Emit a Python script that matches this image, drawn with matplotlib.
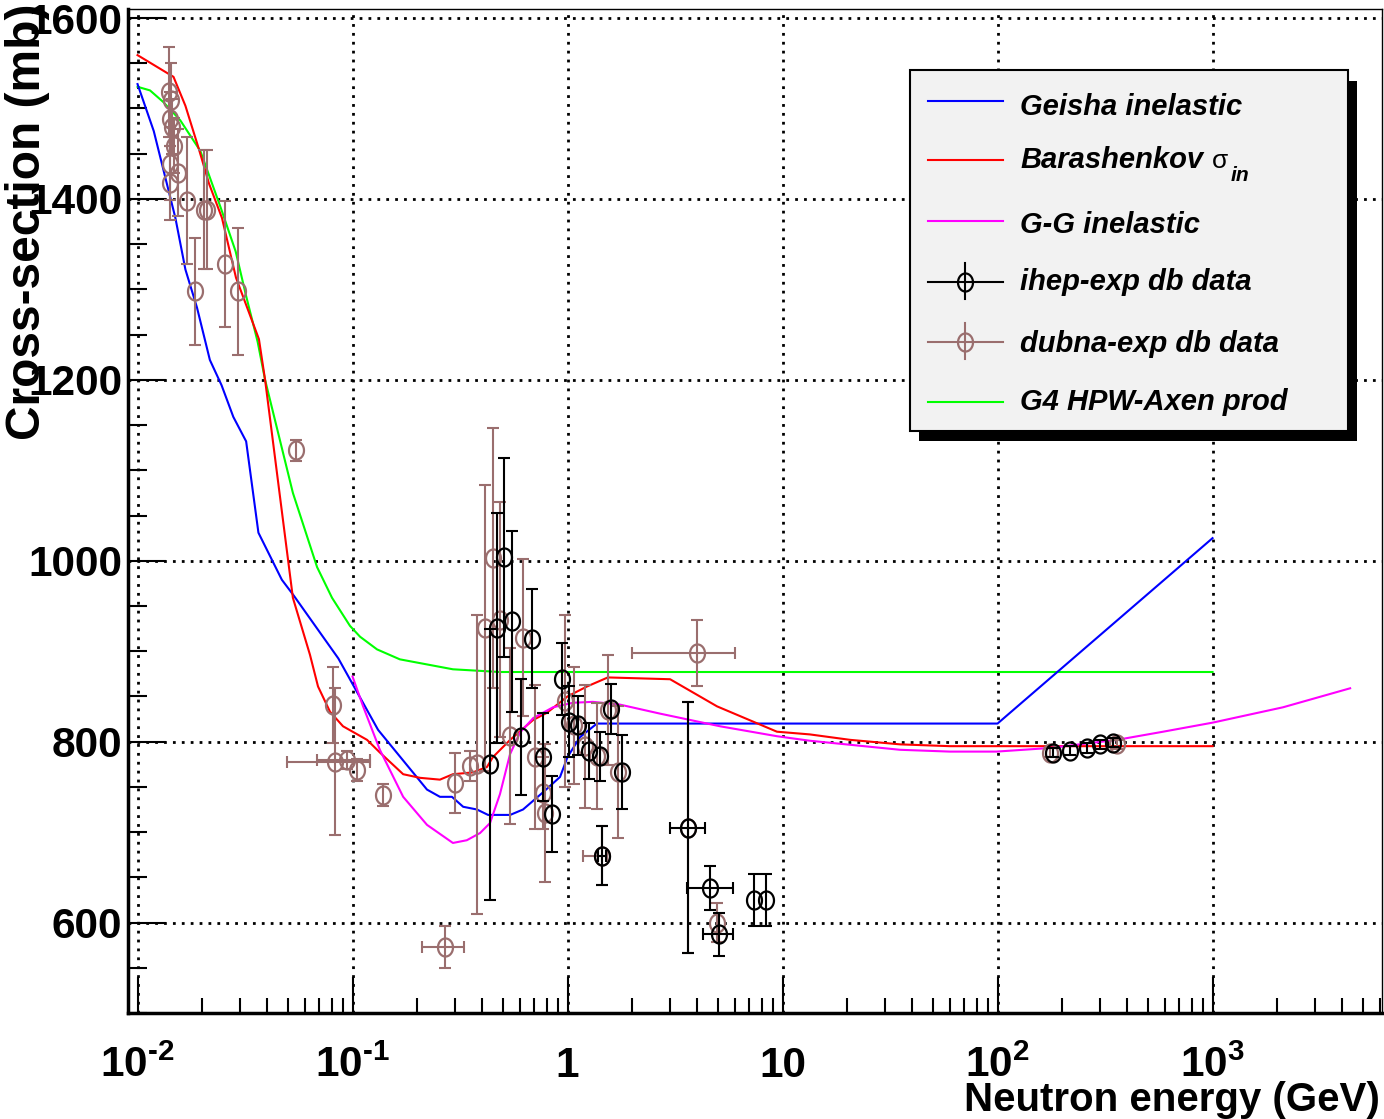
import numpy as np
import matplotlib
matplotlib.use("Agg")
import matplotlib.pyplot as plt
import matplotlib.transforms as mtransforms
from matplotlib import font_manager
from matplotlib.path import Path
from matplotlib.patches import Rectangle
from matplotlib.lines import Line2D
from matplotlib.ticker import LogLocator, MultipleLocator, NullFormatter

# ================= DATA =================
# Geisha inelastic (blue)
geisha_e = [0.01, 0.0119, 0.015, 0.0167, 0.0189, 0.0217, 0.0246, 0.0279, 0.032, 0.0365,
            0.0469, 0.0531, 0.0859, 0.1315, 0.222, 0.255, 0.29, 0.327, 0.379, 0.427,
            0.541, 0.621, 0.769, 0.923, 1.0, 1.143, 1.37, 100, 1000]
geisha_xs = [1527, 1475, 1379, 1322, 1280, 1222, 1194, 1159, 1132, 1031,
             979, 962, 892, 813, 747, 739, 739, 728, 725, 719,
             719, 725, 744, 761, 783, 805, 820, 820, 1025]

# Barashenkov sigma_in (red)
bara_e = [0.01, 0.0147, 0.0167, 0.0193, 0.0215, 0.0247, 0.0287, 0.0367, 0.0392, 0.0528,
          0.0634, 0.0691, 0.0786, 0.0903, 0.1168, 0.134, 0.172, 0.206, 0.255, 0.293,
          0.363, 0.422, 0.45, 0.541, 0.692, 0.803, 1.0, 1.232, 1.54, 3.0,
          4.96, 9.42, 13.4, 20.6, 35.2, 60, 1000]
bara_xs = [1559, 1535, 1503, 1455, 1417, 1379, 1313, 1245, 1200, 959,
           896, 861, 833, 817, 802, 788, 764, 760, 758, 764,
           766, 772, 783, 802, 824, 832, 850, 861, 871, 869,
           839, 811, 808, 802, 797, 795, 795]

# G-G inelastic (magenta)
gg_e = [0.1, 0.112, 0.134, 0.172, 0.222, 0.293, 0.340, 0.392, 0.436, 0.485,
        0.540, 0.601, 0.692, 0.856, 1.06, 1.31, 1.75, 2.69, 5.12, 9.42,
        13.4, 35.2, 60, 99, 175, 360, 589, 1000, 2128, 4365]
gg_xs = [872, 839, 791, 739, 708, 688, 691, 699, 710, 742,
         786, 810, 826, 838, 843, 844, 841, 831, 817, 806,
         801, 791, 789, 789, 793, 802, 811, 821, 838, 859]

# G4 HPW-Axen prod (green)
hpw_e = [0.01, 0.01143, 0.0132, 0.0158, 0.0196, 0.0244, 0.0286, 0.0319, 0.0362, 0.0392,
         0.0528, 0.0684, 0.0803, 0.0973, 0.1084, 0.130, 0.166, 0.293, 0.485, 1000]
hpw_xs = [1524, 1520, 1507, 1487, 1453, 1390, 1342, 1294, 1242, 1200,
          1075, 993, 959, 928, 916, 902, 891, 880, 877, 877]

# ihep-exp db data (black)
ihep_e = np.array([0.436, 0.4715, 0.5087, 0.55, 0.6058, 0.686, 0.767, 0.844, 0.940, 1.016,
                   1.122, 1.263, 1.416, 1.442, 1.593, 1.787, 3.647, 4.60, 5.08, 7.37,
                   8.38, 182, 217, 260, 300, 346])
ihep_xs = np.array([775, 926, 1004, 933, 805, 914, 783, 720, 869, 822,
                    818, 790, 784, 674, 836, 766, 705, 638, 587, 625,
                    625, 788, 790, 793, 797, 799])
ihep_err = np.array([150, 127, 110, 100, 64, 55, 49, 42, 40, 39,
                     33, 31, 27, 33, 28, 41, 139, 24, 24, 29,
                     29, 5, 5, 5, 5, 5])
# energy bin edges (equal to the energy where there is no x error)
ihep_elo = ihep_e.copy()
ihep_ehi = ihep_e.copy()
ihep_elo[[13, 16, 17, 18]] = [1.381, 3.0, 3.6, 4.27]
ihep_ehi[[13, 16, 17, 18]] = [1.517, 4.37, 5.86, 5.89]

# dubna-exp db data (brown)
dub_e = np.array([0.01406, 0.0143, 0.0141, 0.0145, 0.0147, 0.0141, 0.0155, 0.0141, 0.0170, 0.0204,
                  0.0210, 0.0186, 0.0255, 0.0293, 0.0546, 0.0814, 0.0829, 0.0944, 0.105, 0.139,
                  0.269, 0.300, 0.352, 0.378, 0.413, 0.452, 0.485, 0.540, 0.623, 0.706,
                  0.772, 0.786, 0.974, 1.072, 1.206, 1.367, 1.442, 1.543, 1.723, 3.647,
                  3.99, 4.94, 175, 360])
dub_xs = np.array([1518, 1509, 1488, 1480, 1459, 1439, 1429, 1418, 1398, 1388,
                   1388, 1298, 1328, 1298, 1122, 841, 778, 780, 769, 741,
                   573, 754, 773, 775, 926, 1003, 935, 806, 915, 783,
                   743, 721, 845, 818, 795, 784, 674, 835, 766, 705,
                   898, 600, 788, 797])
dub_err = np.array([50, 41, 30, 30, 30, 40, 48, 41, 70, 66,
                    66, 59, 70, 70, 12, 42, 81, 10, 12, 12,
                    23, 33, 17, 165, 158, 144, 130, 97, 87, 80,
                    40, 76, 95, 65, 68, 59, 33, 61, 73, 139,
                    37, 22, 5, 5])
dub_elo = dub_e.copy()
dub_ehi = dub_e.copy()
dub_elo[[16, 17, 20, 36, 40]] = [0.0494, 0.0681, 0.21, 1.18, 1.99]
dub_ehi[[16, 17, 20, 36, 40]] = [0.12, 0.12, 0.33, 1.52, 6.01]

xtick_vals = [0.01, 0.1, 1, 10, 100, 1000]
xtick_text = ["$\\mathdefault{10^{\u2010 2}}$", "$\\mathdefault{10^{\u2010 1}}$", "1", "10",
              r"$\mathdefault{10^{2}}$", r"$\mathdefault{10^{3}}$"]

legend_labels = ["Geisha inelastic", "Barashenkov", "G-G inelastic",
                 "ihep-exp db data", "dubna-exp db data", "G4 HPW-Axen prod"]

# ================= FONTS =================
def has_font(fam, key):
    try:
        p = font_manager.findfont(font_manager.FontProperties(family=fam, weight="bold"),
                                  fallback_to_default=False)
        return key in p
    except Exception:
        return False

if has_font("Liberation Sans Narrow", "Narrow"):
    FAM = "Liberation Sans Narrow"
    TICK_FS = 35
    XLAB_FS = 35
    LEG_FS = 25
else:
    FAM = "Liberation Sans"
    TICK_FS = 30.5
    XLAB_FS = 29
    LEG_FS = 21
WIDE = ["Liberation Sans", "DejaVu Sans"]
plt.rcParams["font.family"] = [FAM, "DejaVu Sans"]
plt.rcParams["font.weight"] = "bold"

BLUE, RED, MAG, GREEN = "#0000ff", "#ff0000", "#ff00ff", "#00ff00"
BROWN = "#9a6e6e"

W, H = 1384, 1119
fx = lambda px: px / W
fy = lambda py: 1 - py / H

# ellipse marker (the original picture is stretched vertically)
t = np.linspace(0, 2 * np.pi, 61)
ELL = Path(np.column_stack([0.83 * np.cos(t), np.sin(t)]), closed=True)

# ================= FIGURE =================
fig = plt.figure(figsize=(W / 100, H / 100), dpi=100)
ax = fig.add_axes([fx(128), fy(1013), (1382 - 128) / W, (1013 - 9) / H])
ax.set_xscale("log")
ax.set_xlim(0.00903, 6140)
ax.set_ylim(500, 1610)

ax.grid(which="major", color="black", linestyle=(0, (1, 2.2)), linewidth=2)
ax.set_axisbelow(True)

ax.yaxis.set_major_locator(MultipleLocator(200))
ax.yaxis.set_minor_locator(MultipleLocator(50))
ax.xaxis.set_major_locator(LogLocator(base=10, numticks=20))
ax.xaxis.set_minor_locator(LogLocator(base=10, subs=np.arange(2, 10), numticks=20))
ax.xaxis.set_major_formatter(NullFormatter())
ax.xaxis.set_minor_formatter(NullFormatter())

ax.tick_params(which="both", direction="in", top=False, right=False, width=1.5)
ax.tick_params(axis="y", which="major", length=27, labelsize=TICK_FS, pad=4)
ax.tick_params(axis="y", which="minor", length=13.7)
ax.tick_params(axis="x", which="major", length=26)
ax.tick_params(axis="x", which="minor", length=10.5)
for lab in ax.get_yticklabels():
    lab.set_fontweight("bold")

for s in ["left", "bottom"]:
    ax.spines[s].set_linewidth(2.5)
for s in ["top", "right"]:
    ax.spines[s].set_linewidth(1)

# x tick labels placed on a common baseline
trans = mtransforms.blended_transform_factory(ax.transData, ax.transAxes)
for v, s in zip(xtick_vals, xtick_text):
    ax.text(v, -(1077 - 1013) / 1004, s, transform=trans, ha="center", va="baseline",
            fontsize=TICK_FS, fontweight="bold", clip_on=False)

# ================= CURVES =================
ax.plot(hpw_e, hpw_xs, color=GREEN, lw=1.5, zorder=2)
ax.plot(geisha_e, geisha_xs, color=BLUE, lw=1.5, zorder=2)
ax.plot(bara_e, bara_xs, color=RED, lw=1.5, zorder=2)
ax.plot(gg_e, gg_xs, color=MAG, lw=1.5, zorder=2)

# ================= DATA POINTS =================
def draw_points(e, xs, err, elo, ehi, color, z):
    ax.errorbar(e, xs, yerr=err, fmt="none", ecolor=color, elinewidth=1.5,
                capsize=4.3, capthick=1.5, zorder=z)
    m = elo < e
    ax.errorbar(e[m], xs[m], xerr=[e[m] - elo[m], ehi[m] - e[m]], fmt="none",
                ecolor=color, elinewidth=1.5, capsize=4.3, capthick=1.5, zorder=z)
    ax.plot(e, xs, ls="none", marker=ELL, ms=13, mfc="none", mec=color, mew=1.6, zorder=z)

draw_points(dub_e, dub_xs, dub_err, dub_elo, dub_ehi, BROWN, 3)
draw_points(ihep_e, ihep_xs, ihep_err, ihep_elo, ihep_ehi, "black", 4)

# ================= AXIS TITLES =================
fig.text(fx(1380), fy(1111), "Neutron energy (GeV)", ha="right", va="baseline",
         fontsize=XLAB_FS, fontweight="bold")
fig.text(fx(28), fy(4), "Cross-section (mb)", rotation=90, ha="center", va="top",
         fontsize=34.5, fontweight="bold", family=WIDE)

# ================= LEGEND =================
fig.add_artist(Rectangle((fx(919), fy(441)), (1357 - 919) / W, (441 - 81) / H,
                         transform=fig.transFigure, facecolor="black", edgecolor="none",
                         zorder=10))
fig.add_artist(Rectangle((fx(910), fy(431)), (1348 - 910) / W, (431 - 70) / H,
                         transform=fig.transFigure, facecolor="#f2f2f2", edgecolor="black",
                         lw=1.5, zorder=11))

leg_colors = [BLUE, RED, MAG, "black", BROWN, GREEN]
leg_line_y = [101, 160, 221, 282, 342, 402]
leg_base_y = [115, 168, 233, 290, 352, 410]
for i, (lab, c) in enumerate(zip(legend_labels, leg_colors)):
    yl = leg_line_y[i]
    fig.add_artist(Line2D([fx(928), fx(1003)], [fy(yl), fy(yl)], transform=fig.transFigure,
                          color=c, lw=1.5, zorder=12))
    if i in (3, 4):
        fig.add_artist(Line2D([fx(965), fx(965)], [fy(yl - 19), fy(yl + 17)],
                              transform=fig.transFigure, color=c, lw=1.5, zorder=12))
        fig.add_artist(Line2D([fx(965)], [fy(yl)], transform=fig.transFigure, ls="none",
                              marker=ELL, ms=13, mfc="none", mec=c, mew=1.6, zorder=12))
    txt = fig.text(fx(1020), fy(leg_base_y[i]), lab, ha="left", va="baseline",
                   fontsize=LEG_FS, fontweight="bold", fontstyle="italic", zorder=12)
    if i == 1:
        r = fig.canvas.get_renderer()
        bb = txt.get_window_extent(renderer=r)
        x_sig = bb.x1 + 9
        sig = fig.text(x_sig / W, fy(168), "\u03c3", ha="left", va="baseline",
                       fontsize=LEG_FS * 0.9, fontweight="normal", family=WIDE, zorder=12)
        bs = sig.get_window_extent(renderer=r)
        fig.text((bs.x1 + 2) / W, fy(181), "in", ha="left", va="baseline",
                 fontsize=LEG_FS * 0.72, fontweight="bold", fontstyle="italic", zorder=12)

fig.savefig("out.png", dpi=100)
